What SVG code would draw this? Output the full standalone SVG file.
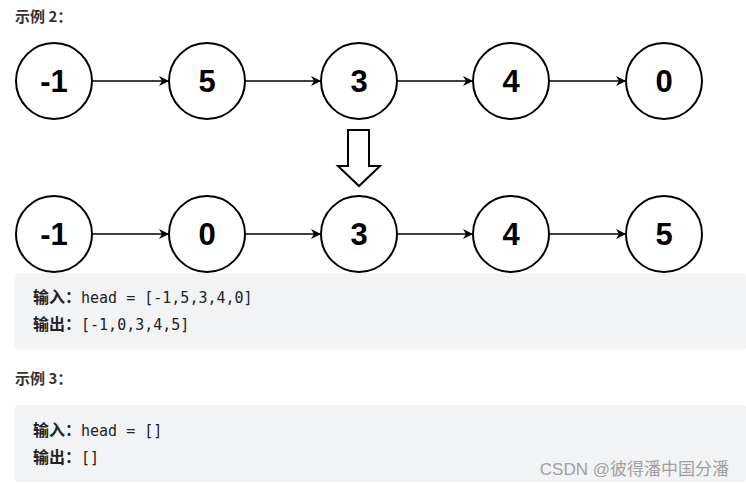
<svg xmlns="http://www.w3.org/2000/svg" width="746" height="487" viewBox="0 0 746 487">
<style>
.node{fill:#fff;stroke:#000;stroke-width:2}
.num{font-family:"Liberation Sans",Arial,sans-serif;font-weight:bold;font-size:31px;text-anchor:middle;fill:#000}
.edge{stroke:#000;stroke-width:1.5;fill:none;marker-end:url(#ah)}
.h{font-family:"Noto Sans CJK SC","Liberation Sans",sans-serif;font-weight:bold;font-size:15px;fill:#333}
.lbl{font-family:"Noto Sans CJK SC",sans-serif;font-weight:bold;font-size:16px;fill:#222}
.code{font-family:"DejaVu Sans Mono","Liberation Mono",monospace;font-size:15px;fill:#222}
.box{fill:#f2f3f5}
</style>
<defs>
<marker id="ah" viewBox="0 0 10 10" refX="10" refY="5" markerWidth="10" markerHeight="10" markerUnits="userSpaceOnUse" orient="auto">
<path d="M0,0 L10,5 L0,10 L3,5 Z" fill="#000"/>
</marker>
</defs>
<rect width="746" height="487" fill="#fff"/>
<text class="h" x="15" y="22">示例 2：</text>
<g id="connectors">
<line class="edge" x1="92" y1="81" x2="169" y2="81"/>
<line class="edge" x1="245" y1="81" x2="321" y2="81"/>
<line class="edge" x1="397" y1="81" x2="473" y2="81"/>
<line class="edge" x1="549" y1="81" x2="626" y2="81"/>
<line class="edge" x1="92" y1="234" x2="169" y2="234"/>
<line class="edge" x1="245" y1="234" x2="321" y2="234"/>
<line class="edge" x1="397" y1="234" x2="473" y2="234"/>
<line class="edge" x1="549" y1="234" x2="626" y2="234"/>
</g>
<g id="t1"><circle class="node" cx="54" cy="81" r="38"/><text class="num" x="54" y="92">-1</text></g>
<g id="t2"><circle class="node" cx="207" cy="81" r="38"/><text class="num" x="207" y="92">5</text></g>
<g id="t3"><circle class="node" cx="359" cy="81" r="38"/><text class="num" x="359" y="92">3</text></g>
<g id="t4"><circle class="node" cx="511" cy="81" r="38"/><text class="num" x="511" y="92">4</text></g>
<g id="t5"><circle class="node" cx="664" cy="81" r="38"/><text class="num" x="664" y="92">0</text></g>
<g id="bigarrow"><path d="M348,130 L369,130 L369,166 L380,166 L359,186 L338,166 L348,166 Z" fill="#fff" stroke="#000" stroke-width="2" stroke-linejoin="miter"/></g>
<g id="b1"><circle class="node" cx="54" cy="234" r="38"/><text class="num" x="54" y="245">-1</text></g>
<g id="b2"><circle class="node" cx="207" cy="234" r="38"/><text class="num" x="207" y="245">0</text></g>
<g id="b3"><circle class="node" cx="359" cy="234" r="38"/><text class="num" x="359" y="245">3</text></g>
<g id="b4"><circle class="node" cx="511" cy="234" r="38"/><text class="num" x="511" y="245">4</text></g>
<g id="b5"><circle class="node" cx="664" cy="234" r="38"/><text class="num" x="664" y="245">5</text></g>
<rect class="box" x="15" y="273" width="731" height="77" rx="3"/>
<text x="33" y="303"><tspan class="lbl">输入：</tspan><tspan class="code">head = [-1,5,3,4,0]</tspan></text>
<text x="33" y="330"><tspan class="lbl">输出：</tspan><tspan class="code">[-1,0,3,4,5]</tspan></text>
<text class="h" x="15" y="384">示例 3：</text>
<rect class="box" x="15" y="405" width="731" height="77" rx="3"/>
<text x="33" y="436"><tspan class="lbl">输入：</tspan><tspan class="code">head = []</tspan></text>
<text x="33" y="463"><tspan class="lbl">输出：</tspan><tspan class="code">[]</tspan></text>
<text x="729" y="475" text-anchor="end" font-family="'Liberation Sans','Noto Sans CJK SC',sans-serif" font-size="17" fill="#a0a0a0">CSDN @彼得潘中国分潘</text>
</svg>
